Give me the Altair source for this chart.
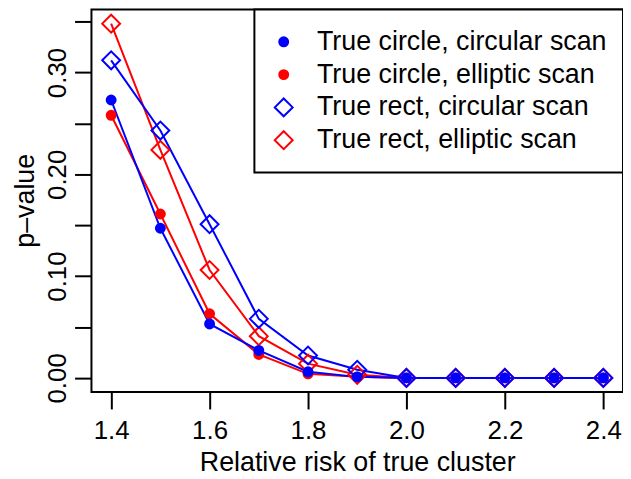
import altair as alt
import pandas as pd

# Relative risk values (x axis)
x_values = [1.4, 1.5, 1.6, 1.7, 1.8, 1.9, 2.0, 2.1, 2.2, 2.3, 2.4]

# p-values per series
circle_circular = [0.273, 0.147, 0.053, 0.027, 0.006, 0.001, 0.0, 0.0, 0.0, 0.0, 0.0]
circle_elliptic = [0.258, 0.161, 0.063, 0.023, 0.004, 0.001, 0.0, 0.0, 0.0, 0.0, 0.0]
rect_circular = [0.312, 0.243, 0.151, 0.058, 0.022, 0.008, 0.0, 0.0, 0.0, 0.0, 0.0]
rect_elliptic = [0.348, 0.224, 0.106, 0.041, 0.014, 0.003, 0.0, 0.0, 0.0, 0.0, 0.0]

series_names = [
    "True circle, circular scan",
    "True circle, elliptic scan",
    "True rect, circular scan",
    "True rect, elliptic scan",
]
series_colors = ["#0000FF", "#FF0000", "#0000FF", "#FF0000"]
series_fills = ["#0000FF", "#FF0000", "transparent", "transparent"]
series_shapes = ["circle", "circle", "diamond", "diamond"]
series_sizes = [81, 81, 324, 324]
draw_order = [4, 3, 2, 1]

x_ticks = [1.4, 1.6, 1.8, 2.0, 2.2, 2.4]
y_ticks = [0.0, 0.05, 0.10, 0.15, 0.20, 0.25, 0.30, 0.35]

rows = []
for name, vals, z in zip(series_names,
                         [circle_circular, circle_elliptic, rect_circular, rect_elliptic],
                         draw_order):
    for xv, yv in zip(x_values, vals):
        rows.append({"rr": xv, "p": yv, "series": name, "z": z})
df = pd.DataFrame(rows).sort_values(["z", "rr"]).reset_index(drop=True)

FONT = "Liberation Sans"

x_enc = alt.X(
    "rr:Q",
    scale=alt.Scale(domain=[1.36, 2.44], nice=False, zero=False),
    axis=alt.Axis(
        values=x_ticks, format=".1f", title="Relative risk of true cluster",
        grid=False, domain=False, tickSize=17, tickWidth=2, tickColor="black",
        labelFont=FONT, labelFontSize=26, labelColor="black", labelPadding=30,
        labelBaseline="alphabetic", labelFlush=False,
        titleFont=FONT, titleFontSize=27, titleFontWeight="normal", titleColor="black",
        titleBaseline="alphabetic", titleY=79,
    ),
)
y_enc = alt.Y(
    "p:Q",
    scale=alt.Scale(domain=[-0.0139, 0.3619], nice=False, zero=False),
    axis=alt.Axis(
        values=y_ticks,
        labelExpr="round(datum.value*100) % 10 == 0 ? format(datum.value, '.2f') : ''",
        title="p\u2013value",
        grid=False, domain=False, tickSize=17, tickWidth=2, tickColor="black",
        labelFont=FONT, labelFontSize=26, labelColor="black", labelPadding=9,
        labelAngle=-90, labelAlign="center", labelBaseline="alphabetic", labelFlush=False,
        titleFont=FONT, titleFontSize=27, titleFontWeight="normal", titleColor="black",
        titleAngle=-90, titleBaseline="alphabetic", titleAlign="center",
        titleX=-58, titleY=192,
    ),
)

leg = alt.Legend(title=None, orient="top-right", offset=0)

base = alt.Chart(df)
line_layers = []
for col in ["#FF0000", "#0000FF"]:
    names = [n for n, c in zip(series_names, series_colors) if c == col]
    line_layers.append(
        base.transform_filter(alt.FieldOneOfPredicate(field="series", oneOf=names))
        .mark_line(strokeWidth=2, color=col)
        .encode(x=x_enc, y=y_enc, detail="series:N")
    )

points = base.mark_point(strokeWidth=2, opacity=1).encode(
    x=x_enc, y=y_enc,
    stroke=alt.Stroke("series:N", scale=alt.Scale(domain=series_names, range=series_colors), legend=leg),
    fill=alt.Fill("series:N", scale=alt.Scale(domain=series_names, range=series_fills), legend=leg),
    shape=alt.Shape("series:N", scale=alt.Scale(domain=series_names, range=series_shapes), legend=leg),
    size=alt.Size("series:N", scale=alt.Scale(domain=series_names, range=series_sizes, type="ordinal"), legend=leg),
)

chart = alt.layer(*line_layers, points).properties(
    width=535, height=385,
    autosize=alt.AutoSizeParams(type="none"),
    padding={"left": 84, "top": 0, "right": 0, "bottom": 86},
).configure_view(
    stroke="black", strokeWidth=2
).configure_legend(
    padding=16, strokeColor="black", strokeWidth=2, fillColor="white",
    labelFont=FONT, labelFontSize=27, labelColor="black", labelLimit=400,
    labelOffset=20, rowPadding=0, clipHeight=33, symbolStrokeWidth=2,
)

chart.save("out.html", embed_options={"renderer": "svg", "actions": False})
